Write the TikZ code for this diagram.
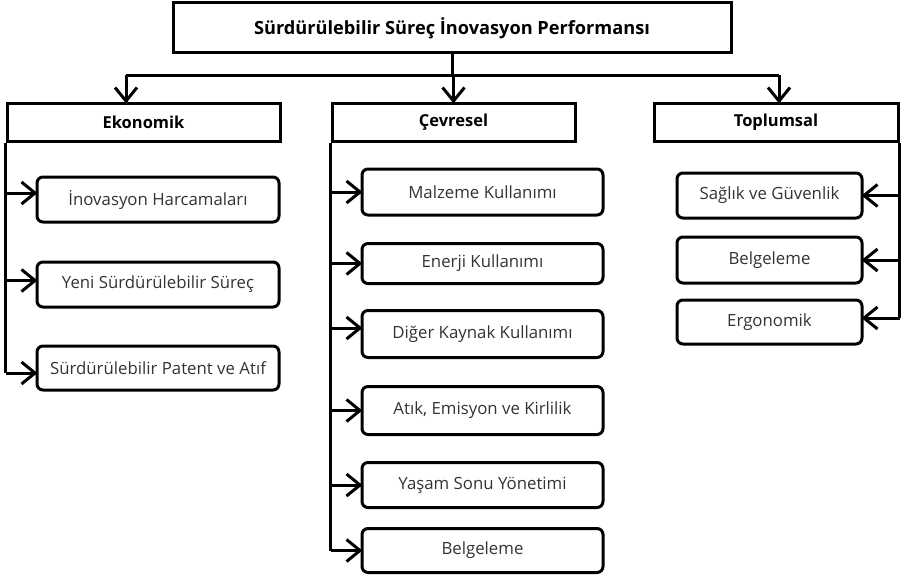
\documentclass[tikz,border=0pt]{standalone}
\usepackage{fontspec}
\setmainfont{Open Sans}
\usetikzlibrary{calc}
\definecolor{txt}{HTML}{333333}
\begin{document}
\begin{tikzpicture}[x=1pt,y=-1pt,
  line width=3pt,
  hdr/.style={draw, rectangle, inner sep=0pt, font=\bfseries\fontsize{16.5}{18}\selectfont, text=black},
  leaf/.style={draw, rectangle, rounded corners=6pt, inner sep=0pt, font=\fontsize{16.8}{19}\selectfont, text=txt},
  conn/.style={line join=miter},
  trunk/.style={line join=miter},
  barb/.pic={\draw[line join=miter, line cap=butt] (-14,-11) -- (-0.5,0) -- (-14,11);}]
\useasboundingbox (0,0) rectangle (901,578);
% headers
\node[hdr, minimum width=558pt, minimum height=50pt, font=\bfseries\fontsize{18.2}{20}\selectfont] (top) at (452,28) {Sürdürülebilir Süreç İnovasyon Performansı};
\node[hdr, minimum width=273pt, minimum height=38pt] (eko) at (143.5,122) {Ekonomik};
\node[hdr, minimum width=243pt, minimum height=38pt] (cev) at (453.5,122) {Çevresel};
\node[hdr, minimum width=244pt, minimum height=38pt] (top2) at (776,122) {Toplumsal};
% Ekonomik leaves
\node[leaf, minimum width=242pt, minimum height=45pt] (e1) at (158,199.5) {İnovasyon Harcamaları};
\node[leaf, minimum width=242pt, minimum height=45pt] (e2) at (158,284.5) {Yeni Sürdürülebilir Süreç};
\node[leaf, minimum width=242pt, minimum height=44pt] (e3) at (158,368) {Sürdürülebilir Patent ve Atıf};
% Cevresel leaves
\node[leaf, minimum width=241pt, minimum height=46pt] (c1) at (482.5,192) {Malzeme Kullanımı};
\node[leaf, minimum width=241pt, minimum height=40pt] (c2) at (482.5,263.5) {Enerji Kullanımı};
\node[leaf, minimum width=241pt, minimum height=47pt] (c3) at (482.5,334) {Diğer Kaynak Kullanımı};
\node[leaf, minimum width=241pt, minimum height=48pt] (c4) at (482.5,410.5) {Atık, Emisyon ve Kirlilik};
\node[leaf, minimum width=241pt, minimum height=45pt] (c5) at (482.5,485) {Yaşam Sonu Yönetimi};
\node[leaf, minimum width=241pt, minimum height=44pt] (c6) at (482.5,550.5) {Belgeleme};
% Toplumsal leaves
\node[leaf, minimum width=185pt, minimum height=45pt] (t1) at (769.5,195.5) {Sağlık ve Güvenlik};
\node[leaf, minimum width=185pt, minimum height=46pt] (t2) at (769.5,260) {Belgeleme};
\node[leaf, minimum width=185pt, minimum height=44pt] (t3) at (769.5,322) {Ergonomik};
% top distribution
\coordinate (j) at (top.south |- 0,75);
\coordinate (ja) at (126,75);
\coordinate (jc) at (cev.north |- 0,75);
\coordinate (jt) at (779,75);
\draw[trunk] (top.south) -- (j);
\draw[trunk] (ja) -- (jt);
\draw[conn] (ja) -- (ja |- eko.north) pic[rotate=-90]{barb};
\draw[conn] (jc) -- (cev.north) pic[rotate=-90]{barb};
\draw[conn] (jt) -- (jt |- top2.north) pic[rotate=-90]{barb};
% Ekonomik branch
\coordinate (ea1) at ($(e1.west)+(0,-6.5)$);
\coordinate (ea2) at ($(e2.west)+(0,-4)$);
\coordinate (ea3) at ($(e3.west)+(0,5)$);
\draw[trunk] (eko.south west) -- (eko.south west |- ea3);
\draw[conn] (eko.south west |- ea1) -- (ea1) pic{barb};
\draw[conn] (eko.south west |- ea2) -- (ea2) pic{barb};
\draw[conn] (eko.south west |- ea3) -- (ea3) pic{barb};
% Cevresel branch
\coordinate (ca3) at ($(c3.west)+(0,-6)$);
\draw[trunk] (cev.south west) -- (cev.south west |- c6.west);
\foreach \n in {c1,c2,c4,c5,c6}{\draw[conn] (cev.south west |- \n.west) -- (\n.west) pic{barb};}
\draw[conn] (cev.south west |- ca3) -- (ca3) pic{barb};
% Toplumsal branch
\coordinate (ta3) at ($(t3.east)+(0,-4)$);
\draw[trunk] (top2.south east) -- (top2.south east |- ta3);
\draw[conn] (top2.south east |- t1.east) -- (t1.east) pic[rotate=180]{barb};
\draw[conn] (top2.south east |- t2.east) -- (t2.east) pic[rotate=180]{barb};
\draw[conn] (top2.south east |- ta3) -- (ta3) pic[rotate=180]{barb};
\end{tikzpicture}
\end{document}
